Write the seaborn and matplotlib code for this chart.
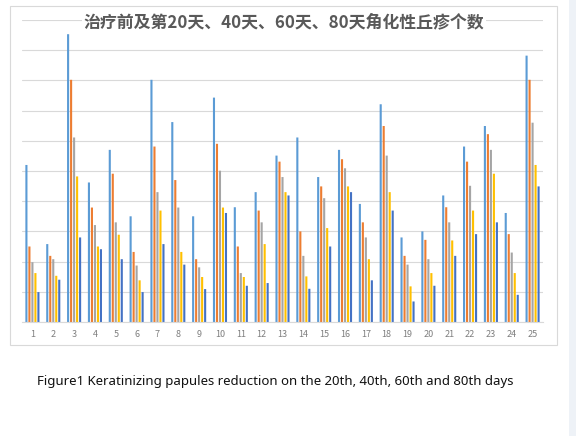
import numpy as np
import pandas as pd
import matplotlib
matplotlib.use('Agg')
import matplotlib.pyplot as plt
import matplotlib.patches as patches
import seaborn as sns

# data (one gridline = 10)
patients = [str(i) for i in range(1, 26)]
before = [52, 25.8, 95.3, 46.2, 57, 35, 80.2, 66.2, 35, 74.3, 38, 43, 55.1, 61.1, 48, 57, 39.1, 72.1, 28, 30, 41.9, 58.1, 64.9, 36.1, 88.2]
day20 = [25, 21.9, 80.2, 37.9, 49.1, 23.2, 58.1, 47, 20.8, 59, 25, 36.9, 53.1, 30, 44.9, 53.9, 33, 64.9, 21.9, 27.2, 38, 53.1, 62.2, 29.1, 80.2]
day40 = [19.8, 20.8, 61.1, 32.1, 33, 18.7, 43, 37.9, 18.1, 50.1, 16.2, 33, 48, 21.9, 41, 50.9, 28, 55.1, 19, 20.8, 33, 45.1, 57, 23, 66]
day60 = [16.2, 15.3, 48.2, 25, 28.9, 13.8, 36.9, 23.2, 14.9, 37.9, 14.9, 25.8, 43, 15.1, 31.1, 44.9, 20.8, 43, 11.8, 16.2, 27, 36.9, 49.1, 16.2, 52]
day80 = [9.9, 14, 28, 24.1, 20.8, 9.9, 25.8, 19, 10.9, 36.1, 12, 12.9, 41.9, 11, 25, 43, 13.8, 36.9, 6.8, 12, 21.9, 29.1, 33, 9, 44.9]
series_names = ['治疗前', '第20天', '第40天', '第60天', '第80天']
colors = ['#5B9BD5', '#ED7D31', '#A5A5A5', '#FFC000', '#4472C4']

rows = []
for name, vals in zip(series_names, [before, day20, day40, day60, day80]):
    for p, v in zip(patients, vals):
        rows.append({'patient': p, 'time': name, 'count': v})
df = pd.DataFrame(rows)

sns.set_style('white')
plt.rcParams['font.family'] = ['Noto Sans CJK SC', 'DejaVu Sans']

W, H = 576, 436
fig = plt.figure(figsize=(W / 100, H / 100), dpi=100)
ax = fig.add_axes([22 / W, 1 - 322 / H, (543 - 22) / W, (322 - 20) / H])

sns.barplot(data=df, x='patient', y='count', hue='time', palette=colors,
            width=0.72, gap=0.3, order=patients, hue_order=series_names,
            legend=False, ax=ax, saturation=1, linewidth=0)
# no pixel snapping, so all the thin bars come out the same width
for bar in ax.patches:
    bar.set_snap(False)

ax.set_ylim(0, 100)
ax.set_xlim(-0.5, 24.5)
ax.set_yticks(np.arange(0, 101, 10))
ax.set_yticklabels([])
ax.tick_params(axis='y', length=0)
ax.tick_params(axis='x', length=0, pad=6, labelsize=6.5, labelcolor='#7F7F7F')
ax.yaxis.grid(True, color='#D9D9D9', linewidth=0.8)
ax.set_axisbelow(True)
for s in ['top', 'right', 'left']:
    ax.spines[s].set_visible(False)
ax.spines['bottom'].set_color('#D9D9D9')
ax.spines['bottom'].set_linewidth(0.8)
ax.set_xlabel('')
ax.set_ylabel('')

# chart frame and side strip
fig.patches.append(patches.Rectangle((10 / W, 1 - 345 / H), (557 - 10) / W, (345 - 6) / H,
                                     transform=fig.transFigure, fill=False,
                                     edgecolor='#D9D9D9', linewidth=0.8))
fig.patches.append(patches.Rectangle((569 / W, 0), 7 / W, 1, transform=fig.transFigure,
                                     facecolor='#EEF2F7', edgecolor='none'))

fig.text(284 / W, 1 - 22 / H, '治疗前及第20天、40天、60天、80天角化性丘疹个数',
         ha='center', va='center', fontsize=12.2, fontweight='bold', color='#595959',
         bbox=dict(facecolor='white', edgecolor='none', pad=1))

fig.text(37 / W, 1 - 381 / H,
         'Figure1 Keratinizing papules reduction on the 20th, 40th, 60th and 80th days',
         ha='left', va='center', fontsize=9.5, color='#111111', family=['Noto Sans', 'DejaVu Sans'])

fig.savefig('out.png', dpi=100)
